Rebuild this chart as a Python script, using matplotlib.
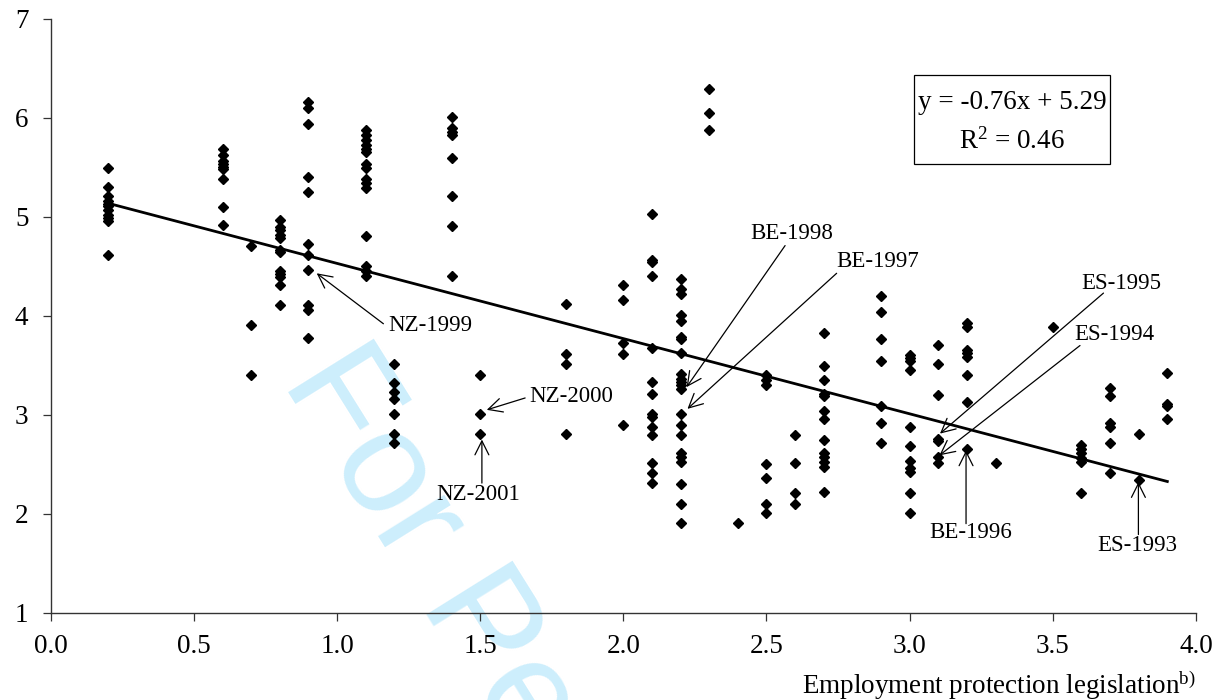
import matplotlib
matplotlib.use('Agg')
import matplotlib.pyplot as plt
from matplotlib.patches import Rectangle

plt.rcParams['font.family'] = ['Liberation Serif', 'DejaVu Serif']
plt.rcParams['mathtext.default'] = 'regular'

# EPL index (x) and value (y), one line per EPL level
epl = ([0.2] * 11 + [0.6] * 9 + [0.7] * 3 + [0.8] * 12 + [0.9] * 11 + [1.1] * 15 +
       [1.2] * 7 + [1.4] * 8 + [1.5] * 3 + [1.8] * 4 + [2.0] * 5 + [2.1] * 14 +
       [2.2] * 22 + [2.3] * 3 + [2.4] * 1 + [2.5] * 7 + [2.6] * 4 + [2.7] * 13 +
       [2.9] * 7 + [3.0] * 11 + [3.1] * 7 + [3.2] * 8 + [3.3] * 1 + [3.5] * 1 +
       [3.6] * 6 + [3.7] * 6 + [3.8] * 2 + [3.9] * 4)
value = [5.49, 5.30, 5.21, 5.16, 5.13, 5.11, 5.07, 5.02, 4.99, 4.96, 4.61,
         5.69, 5.63, 5.56, 5.53, 5.50, 5.48, 5.38, 5.10, 4.92,
         4.71, 3.91, 3.40,
         4.97, 4.90, 4.87, 4.82, 4.79, 4.67, 4.65, 4.45, 4.42, 4.39, 4.31, 4.11,
         6.16, 6.10, 5.94, 5.40, 5.25, 4.73, 4.61, 4.46, 4.11, 4.06, 3.78,
         5.88, 5.83, 5.78, 5.73, 5.69, 5.66, 5.53, 5.49, 5.38, 5.34, 5.29, 4.81, 4.50, 4.45, 4.40,
         3.51, 3.32, 3.23, 3.16, 3.01, 2.81, 2.71,
         6.01, 5.90, 5.86, 5.83, 5.59, 5.21, 4.91, 4.40,
         3.40, 3.01, 2.81,
         4.12, 3.61, 3.51, 2.81,
         4.31, 4.16, 3.73, 3.61, 2.90,
         5.03, 4.56, 4.54, 4.40, 3.68, 3.33, 3.21, 3.01, 2.98, 2.88, 2.80, 2.51, 2.41, 2.31,
         4.37, 4.27, 4.22, 4.01, 3.95, 3.79, 3.77, 3.62, 3.41, 3.36, 3.33, 3.30, 3.26, 3.01,
         2.90, 2.80, 2.61, 2.57, 2.52, 2.30, 2.10, 1.91,
         6.29, 6.05, 5.88,
         1.91,
         3.40, 3.35, 3.30, 2.50, 2.36, 2.10, 2.01,
         2.80, 2.51, 2.21, 2.10,
         3.83, 3.49, 3.35, 3.21, 3.19, 3.04, 2.96, 2.75, 2.61, 2.57, 2.52, 2.47, 2.22,
         4.20, 4.04, 3.77, 3.54, 3.09, 2.92, 2.71,
         3.60, 3.57, 3.54, 3.45, 2.88, 2.68, 2.53, 2.46, 2.42, 2.21, 2.01,
         3.71, 3.51, 3.20, 2.76, 2.74, 2.57, 2.51,
         3.93, 3.89, 3.65, 3.62, 3.58, 3.40, 3.13, 2.65,
         2.51,
         3.89,
         2.69, 2.65, 2.61, 2.56, 2.52, 2.21,
         3.27, 3.19, 2.92, 2.88, 2.71, 2.41,
         2.81, 2.34,
         3.42, 3.11, 3.09, 2.96]

# trend line
slope = -0.76
intercept = 5.29
r2 = 0.46
trend_x = [0.2, 3.9]

# labelled observations: name, point, arrow tail, text position, alignment
labels = ['NZ-1999', 'NZ-2000', 'NZ-2001', 'BE-1998', 'BE-1997',
          'ES-1995', 'ES-1994', 'BE-1996', 'ES-1993']
label_pts = [(0.929, 4.43), (1.523, 3.05), (1.506, 2.75), (2.221, 3.28), (2.224, 3.06),
             (3.106, 2.81), (3.104, 2.59), (3.197, 2.64), (3.799, 2.32)]
label_tails = [(1.162, 3.92), (1.657, 3.17), (1.506, 2.31), (2.565, 4.71), (2.745, 4.43),
               (3.677, 4.23), (3.595, 3.70), (3.197, 1.90), (3.799, 1.79)]
label_text = [(1.178, 3.90), (1.672, 3.18), (1.492, 2.19), (2.588, 4.83), (2.745, 4.55),
              (3.741, 4.33), (3.714, 3.81), (3.214, 1.81), (3.794, 1.68)]
label_ha = ['left', 'left', 'center', 'center', 'left', 'center', 'center', 'center', 'center']

fig = plt.figure(figsize=(12.28, 7), dpi=100)
ax = fig.add_axes([0.0413, 0.1247, 0.9326, 0.8482])

# watermark
ax.text(0.229, 0.455, 'For Peer Review', transform=fig.transFigure, rotation=-58,
        rotation_mode='anchor', ha='left', va='baseline', fontsize=106,
        family='Liberation Sans', color='#cdeefc', zorder=0, clip_on=False)

ax.plot(epl, value, 'D', color='black', ms=5.5, zorder=3, clip_on=False)
ax.plot(trend_x, [slope * x + intercept for x in trend_x], color='black', lw=2, zorder=2)

for name, pt, tail, tpos, ha in zip(labels, label_pts, label_tails, label_text, label_ha):
    ax.annotate('', xy=pt, xytext=tail,
                arrowprops=dict(arrowstyle='->,head_length=0.5,head_width=0.25',
                                mutation_scale=20, lw=0.9, color='black',
                                shrinkA=0, shrinkB=0))
    ax.text(tpos[0], tpos[1], name, ha=ha, va='center', fontsize=16.5)

# equation box
ax.add_patch(Rectangle((0.7538, 0.7558), 0.1711, 0.1499, transform=ax.transAxes,
                       fill=False, edgecolor='black', lw=0.9, zorder=4))
ax.text(0.8393, 0.8585, 'y = %.2fx + %.2f' % (slope, intercept), transform=ax.transAxes,
        ha='center', va='center', fontsize=19.5)
ax.text(0.8393, 0.7933, 'R$^2$ = %.2f' % r2, transform=ax.transAxes,
        ha='center', va='center', fontsize=19.5)

ax.set_xlim(0, 4)
ax.set_ylim(1, 7)
ax.set_xticks([0.0, 0.5, 1.0, 1.5, 2.0, 2.5, 3.0, 3.5, 4.0])
ax.set_xticklabels(['%.1f' % t for t in ax.get_xticks()])
ax.set_yticks([1, 2, 3, 4, 5, 6, 7])
ax.tick_params(axis='both', direction='out', length=6, width=0.9, labelsize=19.5,
               color='#333333')
ax.tick_params(axis='x', pad=9)
ax.tick_params(axis='y', pad=10)
for s in ['top', 'right']:
    ax.spines[s].set_visible(False)
for s in ['left', 'bottom']:
    ax.spines[s].set_linewidth(1.0)
    ax.spines[s].set_color('#333333')

ax.text(1.0, -0.1218, 'Employment protection legislation$^{b)}$', transform=ax.transAxes,
        ha='right', va='center', fontsize=19.5)

fig.savefig('out.png', dpi=100)
